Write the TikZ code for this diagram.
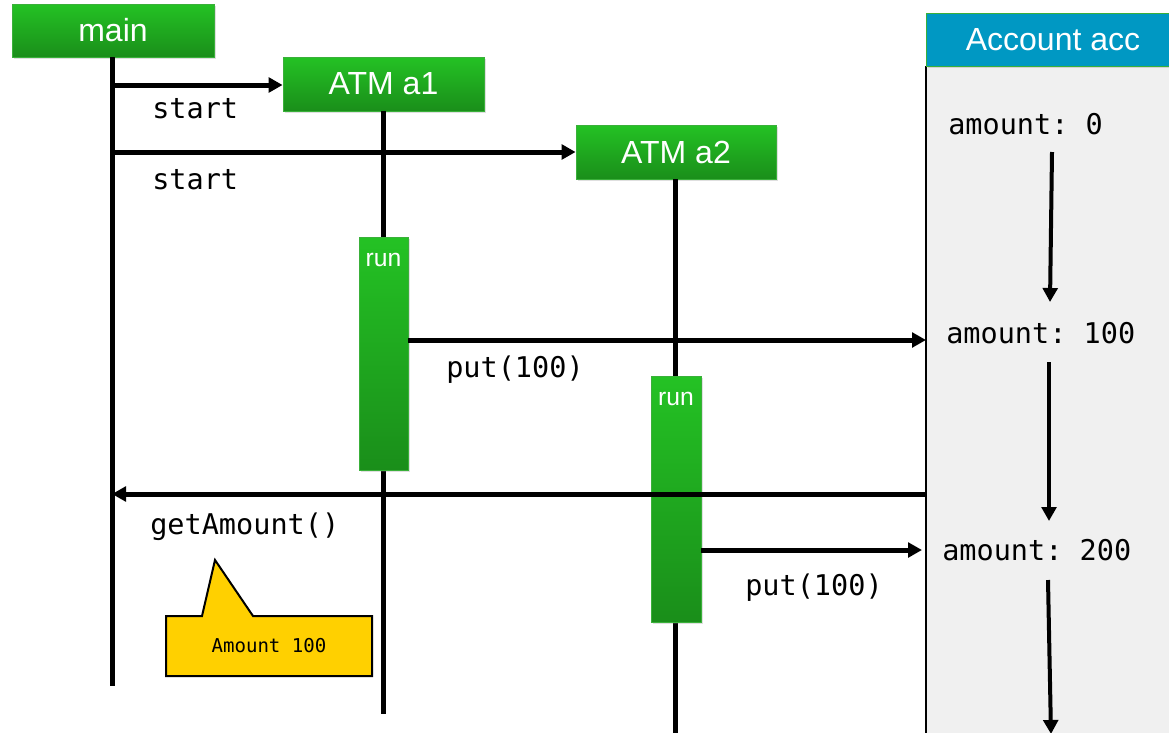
\documentclass[tikz,border=0pt]{standalone}
\usepackage{fontspec}
\setmainfont{Liberation Sans}
\setmonofont{DejaVu Sans Mono}
\usetikzlibrary{arrows.meta,shadows}

\definecolor{gtop}{HTML}{24C224}
\definecolor{gbot}{HTML}{1A8E1A}
\definecolor{gedge}{HTML}{3AB03A}
\definecolor{acchead}{HTML}{0098C3}
\definecolor{accbody}{HTML}{F0F0F0}
\definecolor{noteyellow}{HTML}{FFD000}

\tikzset{
  objbox/.style={draw=gedge, line width=0.6pt, top color=gtop, bottom color=gbot,
    text=white, font=\fontsize{24}{28}\selectfont, inner sep=0pt,
    drop shadow={shadow xshift=1.2pt, shadow yshift=-1.2pt, opacity=0.25}},
  runbox/.style={draw=gedge, line width=0.6pt, top color=gtop, bottom color=gbot,
    inner sep=0pt,
    drop shadow={shadow xshift=1.2pt, shadow yshift=-1.2pt, opacity=0.25}},
  runlabel/.style={text=white, font=\fontsize{18.5}{22}\selectfont, inner sep=0pt},
  lifeline/.style={line width=3.75pt},
  msg/.style={line width=3.75pt, -{Triangle[length=10.5pt,width=11pt]}},
  flow/.style={line width=3pt, -{Triangle[length=10.5pt,width=11pt]}},
  code/.style={font=\ttfamily\fontsize{21.4}{25}\selectfont, inner sep=0pt},
  notetext/.style={font=\ttfamily\fontsize{14.3}{17}\selectfont, inner sep=0pt}
}

\begin{document}
\begin{tikzpicture}[x=0.75pt,y=-0.75pt]
\useasboundingbox (0,0) rectangle (1169,732);

% Account object: header and shaded body, cut off at the right edge
\begin{scope}
  \clip (0,0) rectangle (1169,732);
  \path[fill=accbody] (926,66) rectangle (1190,740);
  \draw[line width=1.2pt] (926,66) -- (926,740);
  \node[draw=gedge, line width=0.6pt, fill=acchead, text=white,
        font=\fontsize{24}{28}\selectfont, inner sep=0pt,
        minimum width=190.5pt, minimum height=39.75pt,
        drop shadow={shadow xshift=1.2pt, shadow yshift=-1.2pt, opacity=0.25}]
        (acc) at (1053,39.5) {Account acc};
\end{scope}

% Object heads
\node[objbox, minimum width=151.5pt, minimum height=39.75pt] (main) at (113,30.5) {main};
\node[objbox, minimum width=150.75pt, minimum height=40.5pt] (a1) at (383.5,84) {ATM a1};
\node[objbox, minimum width=150pt, minimum height=40.5pt] (a2) at (676,152) {ATM a2};

% Lifeline ends
\coordinate (mainEnd) at (112,686);
\coordinate (a1End) at (383,714);
\coordinate (a2End) at (675,735);

\draw[lifeline] (112,57) -- (mainEnd);
\draw[lifeline] (383,111) -- (a1End);
\draw[lifeline] (675,179) -- (a2End);

% start messages from main
\coordinate (s1) at (112,85);
\coordinate (s2) at (112,152);
\draw[msg] (s1) -- (a1.west |- s1);
\draw[msg] (s2) -- (a2.west |- s2);
\node[code, anchor=west] (lstart1) at (152,109) {start};
\node[code, anchor=west] (lstart2) at (152,180) {start};

% Activation bars
\node[runbox, minimum width=36.75pt, minimum height=174.75pt] (run1) at (383.5,353.5) {};
\node[runlabel] (lrun1) at (383.5,260) {run};
\node[runbox, minimum width=37.5pt, minimum height=184.5pt] (run2) at (676,499) {};
\node[runlabel] (lrun2) at (676,399) {run};

% Messages to the account
\coordinate (p1) at (926,340);
\draw[msg] (run1.east |- p1) -- (p1);
\node[code, anchor=west] (lput1) at (446,370) {put(100)};

\coordinate (g1) at (926,494);
\coordinate (g2) at (112,494);
\draw[msg] (g1) -- (g2);
\node[code, anchor=west] (lget) at (150,527) {getAmount()};

\coordinate (p2) at (922,550);
\draw[msg] (run2.east |- p2) -- (p2);
\node[code, anchor=west] (lput2) at (745,588) {put(100)};

% Account states
\node[code, anchor=west] (am0) at (948,124) {amount:~0};
\node[code, anchor=west] (am100) at (946,333) {amount:~100};
\node[code, anchor=west] (am200) at (942,550) {amount:~200};

\coordinate (f1a) at (1052,152);
\coordinate (f1b) at (1050,302);
\coordinate (f2a) at (1049,362);
\coordinate (f2b) at (1049,521);
\coordinate (f3a) at (1048,580);
\coordinate (f3b) at (1051,734);
\draw[flow] (f1a) -- (f1b);
\draw[flow] (f2a) -- (f2b);
\draw[flow] (f3a) -- (f3b);

% Note with returned value
\draw[line width=1.5pt, fill=noteyellow]
  (166,616) -- (202,616) -- (215,560) -- (253,616) -- (372,616)
  -- (372,676) -- (166,676) -- cycle;
\node[notetext] (note) at (269,646) {Amount 100};

\end{tikzpicture}
\end{document}
